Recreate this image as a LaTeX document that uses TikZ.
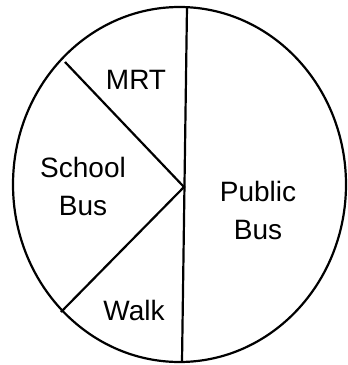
\documentclass[tikz,border=0pt]{standalone}
\usepackage{fontspec}
\setmainfont{Liberation Sans}
\begin{document}
\begin{tikzpicture}[x=1pt, y=-1pt,
   every node/.style={align=center, inner sep=0pt, font=\fontsize{28}{38}\selectfont},
   slice/.style={line width=2.2pt}]

\useasboundingbox (0,0) rectangle (348,365);

\draw[slice] (179.5,184.5) ellipse [x radius=166.5pt, y radius=177.5pt];

\coordinate (top) at (187,7);
\coordinate (bottom) at (182,362);
\coordinate (centre) at (184,187);
\coordinate (upleft) at (65,62);
\coordinate (lowleft) at (61,312);

\draw[slice] (top) -- (bottom);
\draw[slice] (upleft) -- (centre) -- (lowleft);

\node (mrt) at (136,80) {MRT};
\node (school) at (83,186) {School\\Bus};
\node (public) at (258,210) {Public\\Bus};
\node (walk) at (134,310) {Walk};

\end{tikzpicture}
\end{document}
